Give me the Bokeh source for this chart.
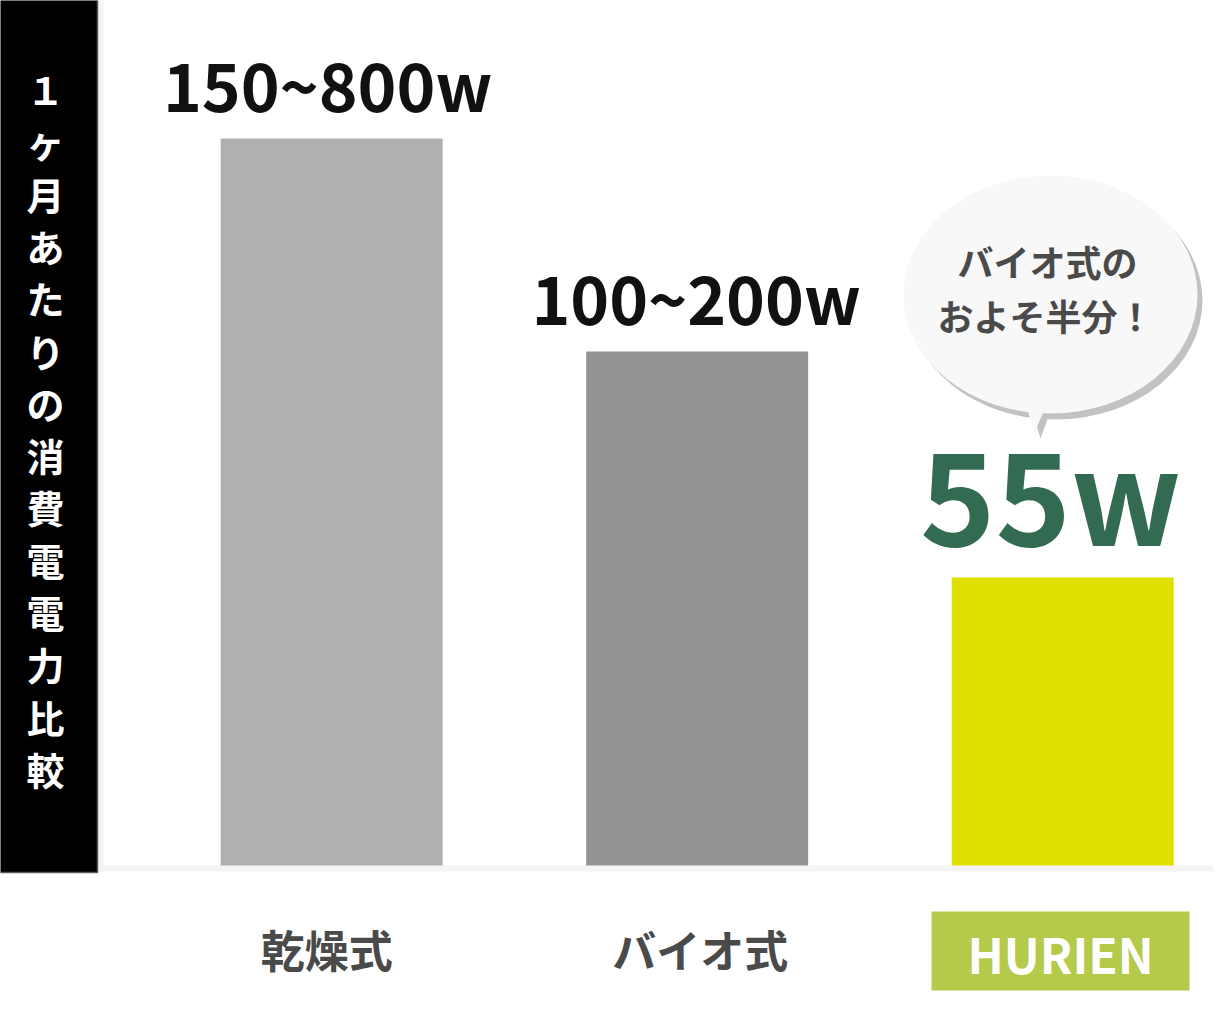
from bokeh.plotting import figure
from bokeh.models import Range1d
from bokeh.core.properties import value
from bokeh.embed import file_html
from bokeh.resources import INLINE

# ---- data ----
categories = ["乾燥式", "バイオ式", "HURIEN"]
bar_values = [727, 514, 288]            # relative bar heights as drawn
value_labels = ["150~800w", "100~200w", "55w"]
bar_colors = ["#b0b0b0", "#949494", "#dfe000"]
y_title_chars = list("１ヶ月あたりの消費電電力比較")   # as printed in the original
bubble_lines = ["バイオ式の", "およそ半分！"]

FONT = value("Noto Sans CJK JP")

W, H = 1214, 998
SX = 365.5                 # px per category step
C0 = 331.17                # x of first category centre
X0 = -C0 / SX
x_start, x_end = X0, X0 + W / SX
BASE = 865


def dx(ix):  # px -> data x
    return X0 + ix / SX


def dy(iy):  # px from top -> data y
    return BASE - iy


p = figure(width=W, height=H, output_backend="svg", toolbar_location=None,
           x_range=Range1d(x_start, x_end), y_range=Range1d(BASE - H, BASE),
           min_border=0, background_fill_color="white",
           border_fill_color="white")
p.axis.visible = False
p.grid.visible = False
p.outline_line_color = None

idx = list(range(len(categories)))

# light frame: left strip and baseline band
p.quad(left=[dx(97)], right=[dx(103)], top=[dy(-5)], bottom=[dy(871)],
       fill_color="#f4f4f4", line_color=None)
p.quad(left=[dx(97)], right=[dx(1240)], top=[dy(865)], bottom=[dy(871)],
       fill_color="#f4f4f4", line_color=None)

# black title box
p.quad(left=[dx(-5)], right=[dx(97)], top=[dy(-5)], bottom=[dy(872)],
       fill_color="#000000", line_color="#5a5a5a", line_width=1.5)
ty = [dy(88 + 52.3 * i) for i in range(len(y_title_chars))]
p.text(x=[dx(45)] * len(y_title_chars), y=ty, text=y_title_chars,
       text_font=FONT, text_font_style="bold", text_font_size="38px",
       text_color="white", text_align="center", text_baseline="middle")

# bars
p.vbar(x=idx, top=bar_values, bottom=0, width=222 / SX,
       fill_color=bar_colors, line_color=None)

# value labels
p.text(x=idx[:2], y=[v + 8 for v in bar_values[:2]], text=value_labels[:2],
       text_font=FONT, text_font_style="bold", text_font_size="66px",
       text_color="#111111", text_align="center", text_baseline="bottom",
       x_offset=[-4, -1])
p.text(x=[idx[2]], y=[bar_values[2] - 5], text=[value_labels[2]],
       text_font=FONT, text_font_style="bold", text_font_size="128px",
       text_color="#336b52", text_align="center", text_baseline="bottom",
       x_offset=[-12])

# speech bubble (shadow + body + tail)
bx, by, bw, bh = 1050, 294, 294, 238
p.ellipse(x=[dx(bx + 5)], y=[dy(by + 6)], width=[bw / SX], height=[bh],
          fill_color="#c2c2c2", line_color=None)
p.patch(x=[dx(1030), dx(1052), dx(1040)], y=[dy(405), dy(405), dy(438)],
        fill_color="#c2c2c2", line_color=None)
p.ellipse(x=[dx(bx)], y=[dy(by)], width=[bw / SX], height=[bh],
          fill_color="#f8f8f8", line_color=None)
p.patch(x=[dx(1024), dx(1048), dx(1034)], y=[dy(400), dy(400), dy(432)],
        fill_color="#f8f8f8", line_color=None)
p.text(x=[dx(1047), dx(1045)], y=[dy(260), dy(314)], text=bubble_lines,
       text_font=FONT, text_font_style="bold", text_font_size="36px",
       text_color="#4a4a4a", text_align="center", text_baseline="middle")

# category labels
p.quad(left=[dx(931)], right=[dx(1189)], top=[dy(911)], bottom=[dy(990)],
       fill_color="#b5c94b", line_color=None)
p.text(x=idx[:2], y=[dy(948)] * 2, text=categories[:2],
       text_font=FONT, text_font_style="bold", text_font_size="44px",
       text_color="#4a4a4a", text_align="center", text_baseline="middle",
       x_offset=[-5, 3])
p.text(x=[idx[2]], y=[dy(952)], text=[categories[2]],
       text_font=FONT, text_font_style="bold", text_font_size="48px",
       text_color="#ffffff", text_align="center", text_baseline="middle",
       x_offset=[-2])

open("out.html", "w").write(file_html(p, INLINE))
